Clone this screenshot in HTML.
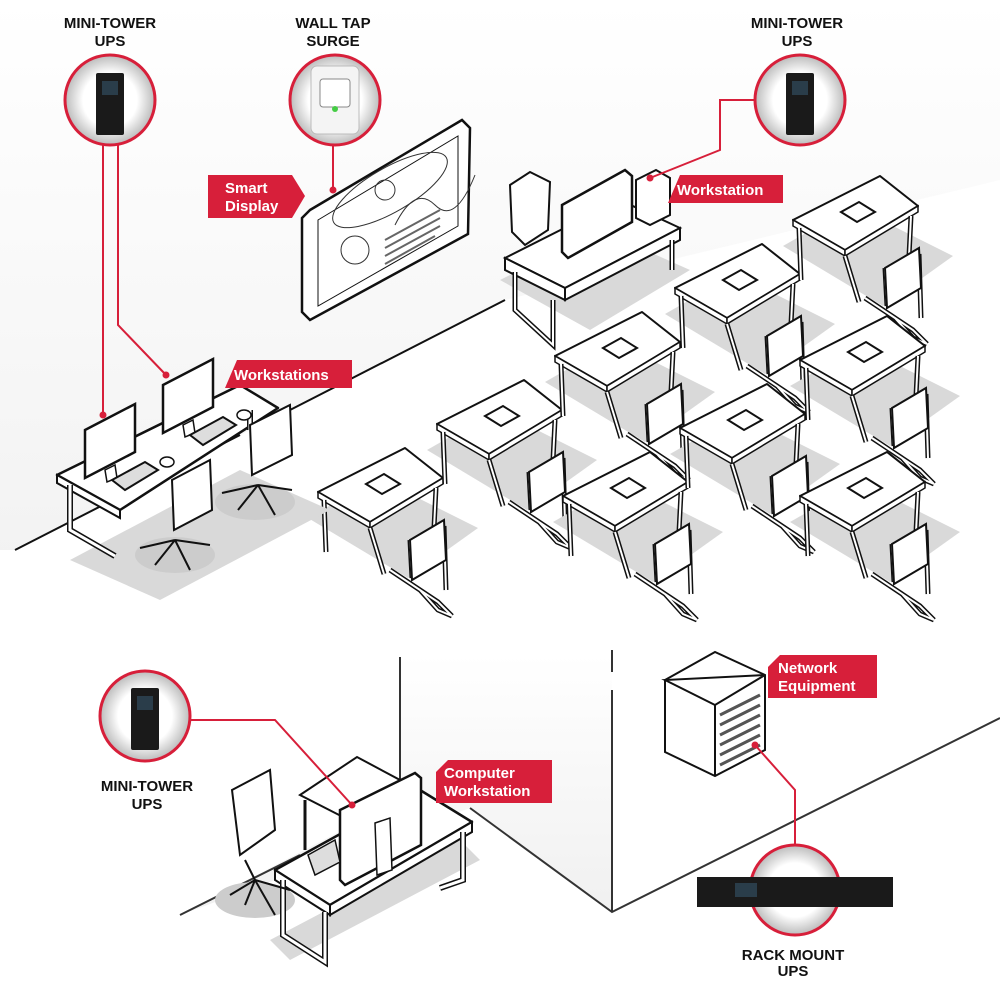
<!DOCTYPE html>
<html><head><meta charset="utf-8"><style>
html,body{margin:0;padding:0;background:#fff}
svg{display:block}
text{font-family:"Liberation Sans",sans-serif}
.lbl{fill:#fff;font-weight:bold;font-size:15px}
.cap{fill:#111;font-size:15px;font-weight:bold;text-anchor:middle}
</style></head><body>
<svg width="1000" height="1000" viewBox="0 0 1000 1000" xmlns="http://www.w3.org/2000/svg">
<defs>
<linearGradient id="wall" x1="0" y1="0" x2="0" y2="1"><stop offset="0" stop-color="#fff"/><stop offset="1" stop-color="#e6e6e6"/></linearGradient>
<radialGradient id="cg" cx="0.5" cy="0.5" r="0.5"><stop offset="0.6" stop-color="#fff"/><stop offset="1" stop-color="#bbb"/></radialGradient>
<g id="table">
  <polygon points="-10,70 60,30 160,80 90,130" fill="#d9d9d9"/>
  <polygon points="0,44 87,0 125,30 52,74" fill="#fff" stroke="#111" stroke-width="2" stroke-linejoin="round"/>
  <polygon points="0,44 52,74 52,80 0,50" fill="#fff" stroke="#111" stroke-width="1.5"/>
  <polygon points="52,74 125,30 125,36 52,80" fill="#fff" stroke="#111" stroke-width="1.5"/>
  <path d="M6,52 L8,104 M52,80 L66,126 M118,40 L116,80" stroke="#111" stroke-width="5" fill="none"/>
  <path d="M6,52 L8,104 M52,80 L66,126 M118,40 L116,80" stroke="#fff" stroke-width="2" fill="none"/>
  <polygon points="48,36 66,26 82,36 64,46" fill="#fff" stroke="#111" stroke-width="2"/>
  <g transform="translate(72,42)">
   <path d="M0,80 L48,112 L62,126 M0,80 L30,100 L48,120 L62,126 M20,50 L22,88 M54,36 L56,100" stroke="#111" stroke-width="5" fill="none" stroke-linejoin="round"/>
   <path d="M0,80 L48,112 L62,126 M0,80 L30,100 L48,120 L62,126 M20,50 L22,88 M54,36 L56,100" stroke="#fff" stroke-width="2" fill="none"/>
   <polygon points="20,50 54,30 56,70 22,90" fill="#fff" stroke="#111" stroke-width="2"/>
  </g>
</g>
<g id="mon">
  <polygon points="0,18 50,-8 50,40 0,66" fill="#fff" stroke="#111" stroke-width="2.5"/>
  <polygon points="20,58 30,53 32,66 22,70" fill="#fff" stroke="#111" stroke-width="1.5"/>
</g>
<g id="ups">
  <rect x="-14" y="-30" width="28" height="62" rx="2" fill="#1a1a1a"/>
  <rect x="-8" y="-22" width="16" height="14" fill="#2a3d4a"/>
</g>
</defs>

<polygon points="0,0 1000,0 1000,180 505,300 15,550 0,550" fill="url(#wall)" opacity="0.5"/>
<path d="M15,550 L240,435 M290,410 L505,300" stroke="#111" stroke-width="2"/>

<polygon points="310,210 462,120 470,128 468,234 310,320 302,312 302,218" fill="#fff" stroke="#111" stroke-width="2.5"/>
<polygon points="318,220 458,136 458,226 318,306" fill="#fff" stroke="#111" stroke-width="1"/>
<ellipse cx="390" cy="190" rx="65" ry="22" transform="rotate(-30 390 190)" fill="none" stroke="#333"/>
<circle cx="385" cy="190" r="10" fill="none" stroke="#333"/>
<circle cx="355" cy="250" r="14" fill="none" stroke="#333"/>
<path d="M395,225 q20,-40 40,-20 t40,-30" fill="none" stroke="#333"/>
<path d="M385,240 l55,-30 M385,248 l55,-30 M385,256 l55,-30 M385,264 l50,-28" stroke="#666" stroke-width="2"/>

<polygon points="500,280 600,230 690,270 590,330" fill="#d9d9d9"/>
<polygon points="505,258 620,200 680,228 565,288" fill="#fff" stroke="#111" stroke-width="2"/>
<polygon points="505,258 565,288 565,300 505,270" fill="#fff" stroke="#111" stroke-width="2"/>
<polygon points="565,288 680,228 680,240 565,300" fill="#fff" stroke="#111" stroke-width="2"/>
<path d="M515,272 L515,310 L553,345 L553,300 M672,240 L672,270" stroke="#111" stroke-width="5" fill="none"/>
<path d="M515,272 L515,310 L553,345 L553,300 M672,240 L672,270" stroke="#fff" stroke-width="2" fill="none"/>
<polygon points="636,180 656,170 670,178 670,215 650,225 636,218" fill="#fff" stroke="#111" stroke-width="2"/>
<polygon points="510,185 530,172 550,182 548,230 525,245 512,232" fill="#fff" stroke="#111" stroke-width="2"/>
<polygon points="562,205 625,170 632,176 632,222 568,258 562,252" fill="#fff" stroke="#111" stroke-width="2.5"/>

<use href="#table" x="318" y="448"/>
<use href="#table" x="437" y="380"/>
<use href="#table" x="555" y="312"/>
<use href="#table" x="675" y="244"/>
<use href="#table" x="793" y="176"/>
<use href="#table" x="563" y="452"/>
<use href="#table" x="680" y="384"/>
<use href="#table" x="800" y="316"/>
<use href="#table" x="800" y="452"/>

<polygon points="70,560 240,470 330,510 160,600" fill="#d9d9d9"/>
<ellipse cx="175" cy="555" rx="40" ry="18" fill="#ccc"/>
<ellipse cx="255" cy="502" rx="40" ry="18" fill="#ccc"/>
<polygon points="57,475 240,385 278,408 120,510" fill="#fff" stroke="#111" stroke-width="2.5" stroke-linejoin="round"/>
<polygon points="57,475 120,510 120,518 57,483" fill="#fff" stroke="#111" stroke-width="2"/>
<path d="M70,485 L70,530 L115,556 M250,410 L250,430" stroke="#111" stroke-width="6" fill="none"/>
<path d="M70,485 L70,530 L115,556 M250,410 L250,430" stroke="#fff" stroke-width="3" fill="none"/>
<use href="#mon" x="85" y="412"/>
<use href="#mon" x="163" y="367"/>
<polygon points="112,480 145,462 158,470 125,490" fill="#ddd" stroke="#111" stroke-width="2"/>
<polygon points="190,435 223,417 236,425 203,445" fill="#ddd" stroke="#111" stroke-width="2"/>
<ellipse cx="167" cy="462" rx="7" ry="5" fill="#fff" stroke="#111" stroke-width="1.5"/>
<ellipse cx="244" cy="415" rx="7" ry="5" fill="#fff" stroke="#111" stroke-width="1.5"/>
<g stroke="#111" stroke-width="2" fill="#fff">
<polygon points="172,480 210,460 212,510 174,530"/>
<path d="M175,540 L140,548 M175,540 L155,565 M175,540 L190,570 M175,540 L210,545" fill="none"/>
<polygon points="250,425 290,405 292,455 252,475"/>
<path d="M258,485 L222,493 M258,485 L238,510 M258,485 L275,515 M258,485 L292,490" fill="none"/>
</g>

<polygon points="180,915 400,800 400,655 612,655 612,912 470,808" fill="url(#wall)" opacity="0.6"/>
<path d="M180,915 L300,855 M400,657 L400,790 M470,808 L612,912 L1000,718" stroke="#333" stroke-width="2" fill="none"/>
<path d="M612,650 L612,672 M612,690 L612,912" stroke="#333" stroke-width="2" fill="none"/>

<polygon points="270,940 460,840 480,860 290,960" fill="#d9d9d9"/>
<ellipse cx="255" cy="900" rx="40" ry="18" fill="#ccc"/>
<polygon points="300,795 357,757 400,780 343,817" fill="#fff" stroke="#111" stroke-width="2"/>
<path d="M305,800 L305,850 M398,783 L398,840" stroke="#111" stroke-width="3"/>
<polygon points="275,870 420,790 472,822 330,905" fill="#fff" stroke="#111" stroke-width="2.5" stroke-linejoin="round"/>
<polygon points="275,870 330,905 330,915 275,880" fill="#fff" stroke="#111" stroke-width="2"/>
<polygon points="330,905 472,822 472,832 330,915" fill="#fff" stroke="#111" stroke-width="2"/>
<path d="M283,880 L283,935 L325,962 L325,912 M463,832 L463,880 L440,888" stroke="#111" stroke-width="6" fill="none"/>
<path d="M283,880 L283,935 L325,962 L325,912 M463,832 L463,880 L440,888" stroke="#fff" stroke-width="3" fill="none"/>
<polygon points="340,810 415,773 421,778 421,845 345,885 340,880" fill="#fff" stroke="#111" stroke-width="2.5"/>
<polygon points="375,823 390,818 392,870 377,875" fill="#fff" stroke="#111" stroke-width="1.5"/>
<polygon points="308,855 335,840 340,862 315,875" fill="#ddd" stroke="#111" stroke-width="1.5"/>
<g stroke="#111" stroke-width="2" fill="#fff">
<polygon points="232,790 270,770 275,830 240,855"/>
<path d="M245,860 L255,880 L230,895 M255,880 L275,915 M255,880 L290,890 M255,880 L245,905" fill="none"/>
</g>

<polygon points="665,680 715,652 765,675 765,750 715,776 665,752" fill="#fff" stroke="#111" stroke-width="2"/>
<polygon points="665,680 715,705 765,675" fill="none" stroke="#111" stroke-width="2"/>
<path d="M715,705 L715,776" stroke="#111" stroke-width="2"/>
<g stroke="#555" stroke-width="3"><path d="M720,715 L760,695 M720,725 L760,705 M720,735 L760,715 M720,745 L760,725 M720,755 L760,735 M720,765 L760,745"/></g>

<g stroke="#d71f3a" stroke-width="2" fill="none">
<path d="M103,145 L103,415"/>
<path d="M118,145 L118,325 L166,375"/>
<path d="M333,145 L333,190"/>
<path d="M757,100 L720,100 L720,150 L650,178"/>
<path d="M190,720 L275,720 L352,805"/>
<path d="M795,845 L795,790 L755,745"/>
</g>
<g fill="#d71f3a"><circle cx="103" cy="415" r="3.5"/><circle cx="166" cy="375" r="3.5"/><circle cx="333" cy="190" r="3.5"/><circle cx="650" cy="178" r="3.5"/><circle cx="352" cy="805" r="3.5"/><circle cx="755" cy="745" r="3.5"/></g>

<g stroke="#d71f3a" stroke-width="3" fill="url(#cg)">
<circle cx="110" cy="100" r="45"/>
<circle cx="335" cy="100" r="45"/>
<circle cx="800" cy="100" r="45"/>
<circle cx="145" cy="716" r="45"/>
<circle cx="795" cy="890" r="45"/>
</g>
<use href="#ups" x="110" y="103"/>
<use href="#ups" x="800" y="103"/>
<use href="#ups" x="145" y="718"/>
<rect x="311" y="66" width="48" height="68" rx="6" fill="#f4f4f4" stroke="#bbb"/>
<rect x="320" y="79" width="30" height="28" rx="3" fill="#fff" stroke="#888"/>
<circle cx="335" cy="109" r="3" fill="#4c4"/>
<rect x="697" y="877" width="196" height="30" fill="#1a1a1a"/>
<rect x="735" y="883" width="22" height="14" fill="#2a3d4a"/>

<text class="cap" x="110" y="28">MINI-TOWER</text><text class="cap" x="110" y="46">UPS</text>
<text class="cap" x="333" y="28">WALL TAP</text><text class="cap" x="333" y="46">SURGE</text>
<text class="cap" x="797" y="28">MINI-TOWER</text><text class="cap" x="797" y="46">UPS</text>
<text class="cap" x="147" y="791">MINI-TOWER</text><text class="cap" x="147" y="809">UPS</text>
<text class="cap" x="793" y="960">RACK MOUNT</text><text class="cap" x="793" y="976">UPS</text>

<g fill="#d71f3a">
<polygon points="208,175 292,175 305,196 292,218 208,218"/>
<polygon points="680,175 783,175 783,203 668,203"/>
<polygon points="237,360 352,360 352,388 225,388"/>
<polygon points="780,655 877,655 877,698 768,698 768,667"/>
<polygon points="448,760 552,760 552,803 436,803 436,772"/>
</g>
<text class="lbl" x="225" y="193">Smart</text><text class="lbl" x="225" y="211">Display</text>
<text class="lbl" x="677" y="195">Workstation</text>
<text class="lbl" x="234" y="380">Workstations</text>
<text class="lbl" x="778" y="673">Network</text><text class="lbl" x="778" y="691">Equipment</text>
<text class="lbl" x="444" y="778">Computer</text><text class="lbl" x="444" y="796">Workstation</text>
</svg>
</body></html>
